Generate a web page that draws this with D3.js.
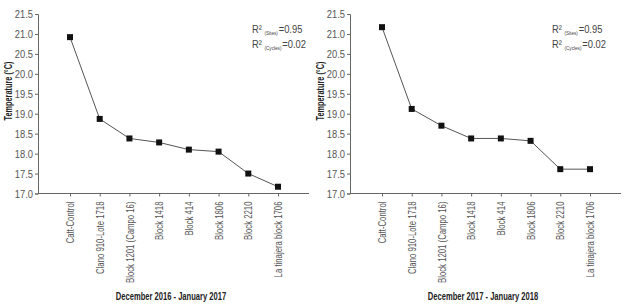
<!DOCTYPE html>
<html>
<script src="https://d3js.org/d3.v7.min.js"></script>

<head>
    <style>
        body {
            margin: 0;
            background-color: #ffffff;
            font-family: "Liberation Sans", Arial, sans-serif;
        }
    </style>
</head>

<body>
</body>
<script>
    const width = 624,
        height = 306;

    const sites = ["Catt-Control", "Clano 910-Lote 1718", "Block 1201 (Campo 16)", "Block 1418",
        "Block 414", "Block 1806", "Block 2210", "La tinajera block 1706"];
    const temp2017 = [20.92, 18.87, 18.38, 18.28, 18.10, 18.05, 17.50, 17.17];
    const temp2018 = [21.17, 19.12, 18.70, 18.38, 18.38, 18.32, 17.61, 17.61];
    const yTicks = [17.0, 17.5, 18.0, 18.5, 19.0, 19.5, 20.0, 20.5, 21.0, 21.5];
    const periods = ["December 2016 - January 2017", "December 2017 - January 2018"];

    // the original uses a narrow face, squeeze the text sideways
    const narrow = 0.74;

    const svg = d3.select("body").append("svg").attr("width", width).attr("height", height);

    function panel(x0, values, title) {
        const g = svg.append("g").attr("transform", `translate(${x0},0)`);
        const y = d3.scaleLinear().domain([17, 21.5]).range([193.5, 14]);
        const x = d3.scalePoint().domain(sites).range([32, 240]);
        const axisColor = "#666";

        // y axis
        const ya = g.append("g").attr("transform", "translate(38,0)")
            .call(d3.axisLeft(y).tickValues(yTicks).tickSize(3).tickFormat(d3.format(".1f")));
        ya.select(".domain").attr("stroke", axisColor);
        ya.selectAll(".tick line").attr("stroke", axisColor);
        ya.selectAll("text").attr("fill", "#555").attr("font-size", 11)
            .attr("font-family", "inherit")
            .attr("transform", "translate(-5,0) scale(0.85,1)")
            .attr("x", 0);

        // x axis
        const xa = g.append("g").attr("transform", `translate(38,${y(17)})`)
            .call(d3.axisBottom(x).tickSize(3).tickSizeOuter(0));
        xa.select(".domain").attr("d", "M0,0H271").attr("stroke", axisColor);
        xa.selectAll(".tick line").attr("stroke", axisColor);
        xa.selectAll("text")
            .attr("fill", "#555")
            .attr("font-size", 10.5)
            .attr("font-family", "inherit")
            .attr("text-anchor", "end")
            .attr("transform", `rotate(-90) translate(-8,0) scale(${narrow},1)`)
            .attr("x", 0)
            .attr("y", 0)
            .attr("dy", "0.35em");

        const px = d => 38 + x(d);

        g.append("path")
            .datum(values)
            .attr("fill", "none")
            .attr("stroke", "#555")
            .attr("stroke-width", 1)
            .attr("d", d3.line().x((d, i) => px(sites[i])).y(d => y(d)));

        g.selectAll("rect.pt").data(values).join("rect")
            .attr("class", "pt")
            .attr("x", (d, i) => px(sites[i]) - 3)
            .attr("y", d => y(d) - 3)
            .attr("width", 6)
            .attr("height", 6)
            .attr("fill", "#111");

        g.append("text")
            .attr("transform", `translate(12,91) rotate(-90) scale(0.7,1)`)
            .attr("text-anchor", "middle")
            .attr("font-size", 10.5)
            .attr("font-weight", "bold")
            .attr("fill", "#222")
            .text("Temperature (°C)");

        g.append("text")
            .attr("transform", `translate(171,300) scale(0.69,1)`)
            .attr("text-anchor", "middle")
            .attr("font-size", 11)
            .attr("font-weight", "bold")
            .attr("fill", "#222")
            .text(title);

        return g;
    }

    function r2(g, x, lines) {
        lines.forEach((l, i) => {
            const t = g.append("text")
                .attr("transform", `translate(${x},${33 + i * 14.5}) scale(0.85,1)`)
                .attr("font-size", 11)
                .attr("fill", "#444");
            t.append("tspan").text("R²");
            t.append("tspan").attr("font-size", 5.5).attr("dx", 3).attr("dy", 2).text(l[0]);
            t.append("tspan").attr("dy", -2).attr("dx", 1).text("=" + l[1]);
        });
    }

    const left = panel(0, temp2017, periods[0]);
    const right = panel(312, temp2018, periods[1]);
    r2(left, 252, [["(Sites)", "0.95"], ["(Cycles)", "0.02"]]);
    r2(right, 240, [["(Sites)", "0.95"], ["(Cycles)", "0.02"]]);
</script>

</html>
